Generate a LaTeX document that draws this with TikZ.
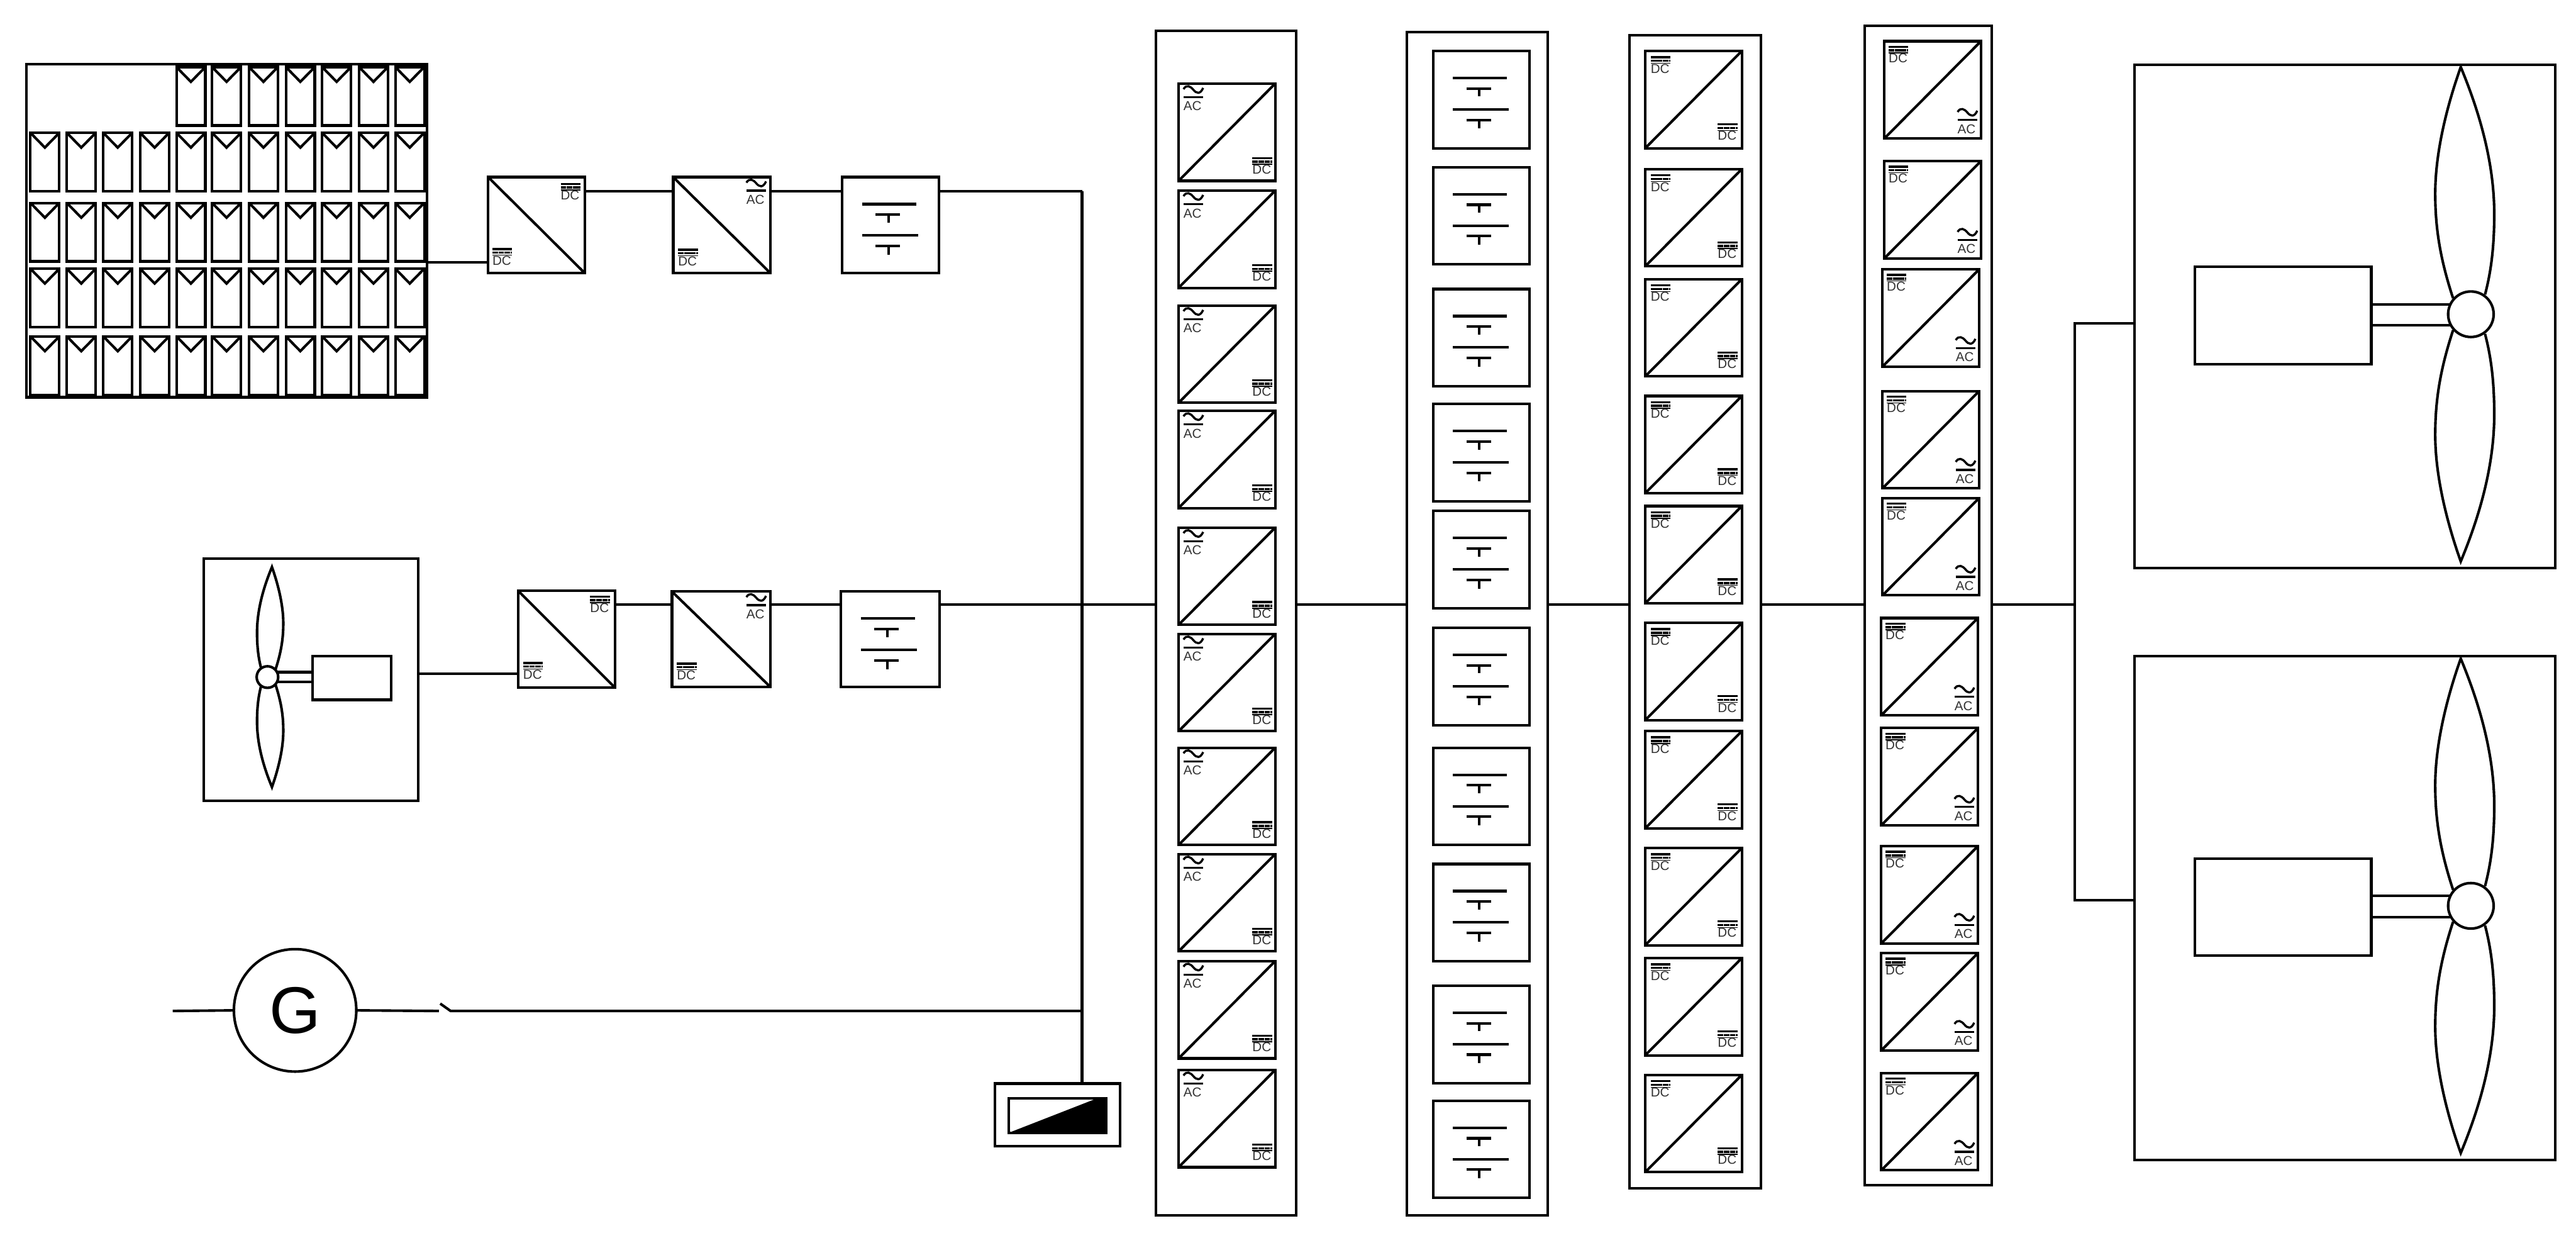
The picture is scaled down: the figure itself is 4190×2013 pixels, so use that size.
\documentclass[tikz,border=0pt]{standalone}
\usepackage{fontspec}
\setmainfont{Liberation Sans}
\newcommand\wirewd{0.042cm}
\tikzset{
  x=0.01cm,y=-0.01cm,
  wire/.style={line width=\wirewd,line join=miter},
  plainbox/.style={draw,line width=\wirewd,inner sep=0pt,outer sep=0pt,anchor=north west},
  unitbox/.style={plainbox,minimum width=1.57cm,minimum height=1.58cm},
  solarcell/.style={plainbox,minimum width=0.47cm,minimum height=0.95cm},
  lbl/.style={inner sep=0pt,outer sep=0pt,text=black!80,font=\fontsize{6}{6}\selectfont},
  symbar/.style={line width=0.035cm},
  symdash/.style={line width=0.035cm,dash pattern=on 0.09cm off 0.008cm},
  symover/.style={line width=0.015cm},
  hubcirc/.style={circle,draw,fill=white,line width=\wirewd,inner sep=0pt,outer sep=0pt},
}
\newcommand\pxbox[6][plainbox]{\node[#1,minimum width={(#5-#3)*0.01cm},minimum height={(#6-#4)*0.01cm}] (#2) at (#3,#4) {};}
\newcommand\dcsym[3]{\begin{scope}[shift={(#2)},shift={(#3)}]
  \draw[symbar] (0,0) -- (32,0);
  \draw[symdash] (0,6) -- (32,6);
  \draw[symover] (0,10) -- (32,10);
  \node[lbl,anchor=base west] (#1) at (0,26) {DC};
\end{scope}}
\newcommand\acsym[3]{\begin{scope}[shift={(#2)},shift={(#3)}]
  \draw[symbar] (0,5) .. controls (5,-3) and (11,0) .. (16,6) .. controls (21,12) and (27,14) .. (32,3);
  \draw[symbar] (0,18) -- (32,18);
  \node[lbl,anchor=base west] (#1) at (0,40) {AC};
\end{scope}}
\newcommand\batsym[1]{\begin{scope}[shift={(#1.north west)}]
  \draw[wire] (32,44) -- (120,44);
  \draw[wire] (54,61) -- (94,61);
  \draw[wire] (75,61) -- (75,74);
  \draw[wire] (32,95) -- (123,95);
  \draw[wire] (54,112) -- (94,112);
  \draw[wire] (75,112) -- (75,126);
\end{scope}}
\newcommand\bladepath{
  \draw[wire] (-29,-26) .. controls (-50,-90) and (-58,-140) .. (-58,-196) .. controls (-58,-270) and (-35,-350) .. (-16.5,-402) .. controls (5,-350) and (38,-260) .. (38,-163) .. controls (38,-110) and (33,-70) .. (23,-32);
  \draw[wire] (-29,26) .. controls (-50,90) and (-58,140) .. (-58,196) .. controls (-58,270) and (-35,350) .. (-16.5,402) .. controls (5,350) and (38,260) .. (38,163) .. controls (38,110) and (33,70) .. (23,32);
}
\newcommand\bigturbine[2]{\begin{scope}[shift={(0,#2)}]
  \pxbox{#1o}{3472}{105}{4156}{924}
  \pxbox{#1g}{3570}{434}{3857}{592}
  \draw[wire] ([yshift=0.18cm]#1g.east) -- ++(140,0);
  \draw[wire] ([yshift=-0.16cm]#1g.east) -- ++(140,0);
  \coordinate (#1c) at (4019,511);
  \begin{scope}[shift={(#1c)}]\bladepath\end{scope}
  \node[hubcirc,minimum size=0.74cm] (#1h) at (#1c) {};
\end{scope}}
\begin{document}
\begin{tikzpicture}
\useasboundingbox (0,0) rectangle (4190,2013);
\fill[white] (0,0) rectangle (4190,2013);

% PV array
\pxbox{pv}{43}{104}{695}{646}
\foreach \cx [count=\c] in {49.5,108.7,168,228,287,345,405,465,524,584,643}{
  \foreach \ry [count=\r] in {109,216,330,437,547}{
    \pgfmathtruncatemacro\skipcell{(\r==1 && \c<5) ? 1 : 0}
    \ifnum\skipcell=0
      \node[solarcell] (pvc\r x\c) at (\cx,\ry) {};
      \draw[wire] (pvc\r x\c.north west) -- ++(23.5,24) -- (pvc\r x\c.north east);
    \fi
  }
}

% Top row
\pxbox{pa}{794}{288}{951}{444}
\draw[wire] (pa.north west) -- (pa.south east);
\dcsym{pas}{pa.south west}{7,-39}
\dcsym{pan}{pa.north east}{-39,11}
\pxbox{pb}{1095}{288}{1253}{444}
\draw[wire] (pb.north west) -- (pb.south east);
\dcsym{pbs}{pb.south west}{8,-38}
\acsym{pbn}{pb.north east}{-39,4}
\pxbox{pd}{1370}{288}{1527}{444}
\batsym{pd}

% Small wind
\pxbox{wo}{331}{908}{680}{1302}
\pxbox{wg}{508}{1067}{636}{1138}
\draw[wire] ([yshift=0.095cm]wg.west) -- ++(-70,0);
\draw[wire] ([yshift=-0.065cm]wg.west) -- ++(-70,0);
\coordinate (wc) at (435,1101);
\begin{scope}[shift={(wc)},xscale=-0.445,yscale=0.445]\bladepath\end{scope}
\node[hubcirc,minimum size=0.35cm] (wh) at (wc) {};
\pxbox{wa}{843}{961}{1000}{1118}
\draw[wire] (wa.north west) -- (wa.south east);
\dcsym{was}{wa.south west}{8,-40}
\dcsym{wan}{wa.north east}{-40,9}
\pxbox{wb}{1093}{962}{1253}{1117}
\draw[wire] (wb.north west) -- (wb.south east);
\dcsym{wbs}{wb.south west}{8,-38}
\acsym{wbn}{wb.north east}{-39,4}
\pxbox{wd}{1368}{962}{1528}{1117}
\batsym{wd}

% Generator
\node[circle,draw,line width=\wirewd,minimum size=1.99cm,inner sep=0pt,outer sep=0pt,font=\fontsize{30.5}{30.5}\selectfont] (gen) at (480,1643) {G};

% Storage converter
\pxbox{ctrl}{1618}{1762}{1822}{1864}
\pxbox{ci}{1641}{1786}{1799}{1842}
\fill (ci.south west) -- (1782,1787) -- (ci.north east) -- (ci.south east) -- cycle;

% Columns
\pxbox{col1}{1880}{50}{2108}{1976}
\pxbox{col2}{2288}{52}{2517}{1976}
\pxbox{col3}{2650}{57}{2864}{1932}
\pxbox{col4}{3033}{42}{3240}{1927}

\foreach \t [count=\i] in {136,310,497,668,858,1031,1216,1389,1563,1740}{
  \node[unitbox] (a\i) at (1917,\t) {};
  \draw[wire] (a\i.south west) -- (a\i.north east);
  \acsym{a\i n}{a\i.north west}{8,4}
  \dcsym{a\i s}{a\i.south east}{-37,-37}
}
\foreach \t [count=\i] in {83,272,470,657,831,1021,1216,1405,1603,1790}{
  \node[unitbox] (b\i) at (2331,\t) {};
  \batsym{b\i}
}
\foreach \t [count=\i] in {83,275,454,644,823,1013,1189,1379,1558,1748}{
  \node[unitbox] (c\i) at (2676,\t) {};
  \draw[wire] (c\i.south west) -- (c\i.north east);
  \dcsym{c\i n}{c\i.north west}{9,10}
  \dcsym{c\i s}{c\i.south east}{-39,-39}
}
\foreach \t/\l [count=\i] in {67/3065,262/3065,438/3062,636/3062,810/3062,1005/3060,1184/3060,1376/3060,1550/3060,1745/3060}{
  \node[unitbox] (d\i) at (\l,\t) {};
  \draw[wire] (d\i.south west) -- (d\i.north east);
  \dcsym{d\i n}{d\i.north west}{7,9}
  \acsym{d\i s}{d\i.south east}{-38,-48}
}

% Large turbines
\bigturbine{ta}{0}
\bigturbine{tb}{962}

% Connectors
\coordinate (ypv) at (695,427);
\coordinate (ytop) at (1760,311);
\coordinate (ybus) at (1760,983);
\coordinate (ygen) at (1760,1644);
\coordinate (yw) at (680,1096);
\coordinate (gl) at (281,1644);
\coordinate (sa) at (714,1644);
\coordinate (sb) at (716,1632);
\coordinate (sc) at (733,1644);
\coordinate (j1) at (3375,526);
\coordinate (j2) at (3375,1464);
\coordinate (jm) at (3375,983);

\draw[wire] (pv.east |- ypv) -- (pa.west |- ypv);
\draw[wire] (pa.east |- ytop) -- (pb.west |- ytop);
\draw[wire] (pb.east |- ytop) -- (pd.west |- ytop);
\draw[wire] (pd.east |- ytop) -- (ytop);
\draw[wire] (wo.east |- yw) -- (wa.west |- yw);
\draw[wire] (wa.east |- ybus) -- (wb.west |- ybus);
\draw[wire] (wb.east |- ybus) -- (wd.west |- ybus);
\draw[wire] (wd.east |- ybus) -- (col1.west |- ybus);
\draw[wire] (gl) -- (gen.west);
\draw[wire] (gen.east) -- (sa);
\draw[wire] (sb) -- (sc) -- (ygen);
\draw[wire] (ytop) -- (ytop |- ctrl.north);
\draw[wire] (col1.east |- ybus) -- (col2.west |- ybus);
\draw[wire] (col2.east |- ybus) -- (col3.west |- ybus);
\draw[wire] (col3.east |- ybus) -- (col4.west |- ybus);
\draw[wire] (col4.east |- ybus) -- (jm);
\draw[wire] (j1 -| tao.west) -- (j1) -- (j2) -- (j2 -| tbo.west);
\end{tikzpicture}
\end{document}
